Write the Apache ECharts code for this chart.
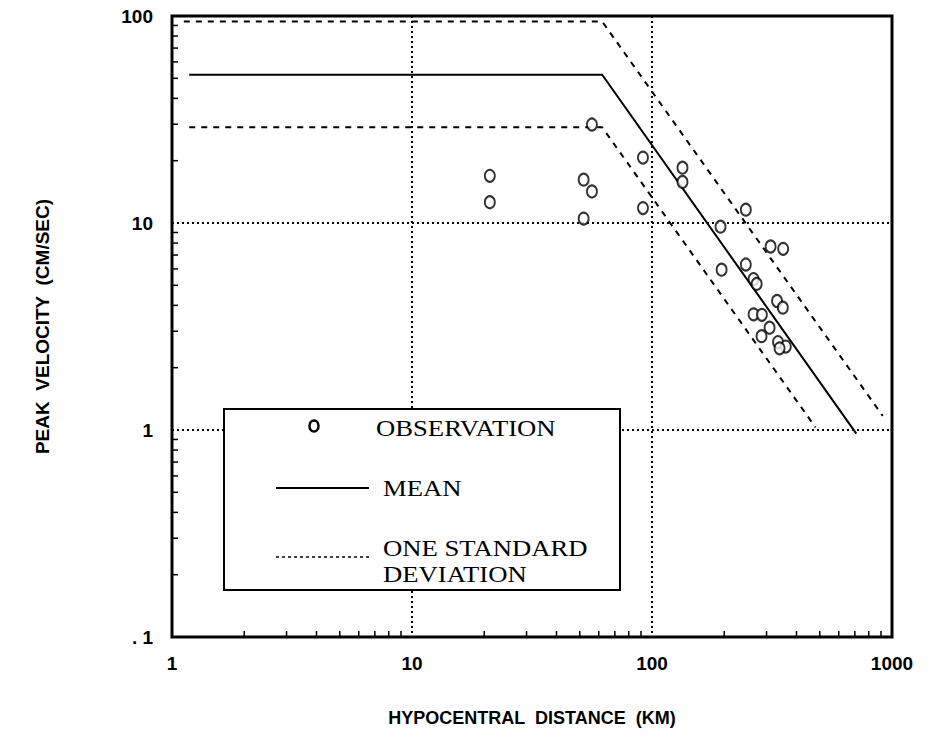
<!DOCTYPE html>
<html><head><meta charset="utf-8">
<script src="https://cdn.jsdelivr.net/npm/echarts@6/dist/echarts.min.js"></script>
<style>html,body{margin:0;padding:0;background:#fff}#c{width:929px;height:740px}</style>
</head><body><div id="c"></div>
<script>
// Observations: [hypocentral distance (km), peak velocity (cm/sec)]
const observations = [
  [21.1,16.9],[21.1,12.6],[51.9,16.2],[56.2,14.2],[51.9,10.5],[56.2,29.9],
  [91.7,20.7],[91.7,11.8],[134,18.5],[134,15.8],[193,9.6],[246,11.6],
  [312,7.7],[352,7.5],[195,5.95],[246,6.3],[265,5.36],[273,5.08],
  [332,4.2],[351,3.9],[265,3.62],[287,3.6],[309,3.12],[286,2.84],
  [335,2.66],[361,2.53],[340,2.48]
];
const meanLine = [[1.18,52],[62,52],[710,0.96]];
const upperSD  = [[1.12,94],[62,94],[915,1.17]];
const lowerSD  = [[1.18,29],[62,29],[480,1.03]];

const xTickValues = [1,10,100,1000];
const xTickLabels = ['1','10','100','1000'];
const yTickValues = [0.1,1,10,100];
const yTickLabels = ['. 1','1','10','100'];
const xMinorTicks = [2,3,4,5,6,7,8,9,20,30,40,50,60,70,80,90,200,300,400,500,600,700,800,900];
const yMinorTicks = [0.2,0.3,0.4,0.5,0.6,0.7,0.8,0.9,2,3,4,5,6,7,8,9,20,30,40,50,60,70,80,90];

const xTitle = 'HYPOCENTRAL  DISTANCE  (KM)';
const yTitle = 'PEAK  VELOCITY  (CM/SEC)';
const legendLabels = ['OBSERVATION','MEAN','ONE STANDARD','DEVIATION'];

function lookup(vals, labels, v){
  for (let i=0;i<vals.length;i++){ if (Math.abs(Math.log10(vals[i])-Math.log10(v))<1e-6) return labels[i]; }
  return '';
}
const sans = 'Liberation Sans, Arial, sans-serif';
const labelFont = {fontFamily:sans, fontWeight:'bold', fontSize:19, color:'#000'};
const serifFont = '23px Liberation Serif, Times New Roman, serif';
const LZ = 100;

const chart = echarts.init(document.getElementById('c'), null, {renderer:'svg'});
chart.setOption({
  backgroundColor:'#fff',
  animation:false,
  grid:{left:172, top:16, width:720, height:621, show:true, borderColor:'#000', borderWidth:3, backgroundColor:'transparent'},
  xAxis:{
    type:'log', logBase:10, min:1, max:1000,
    name:xTitle, nameLocation:'middle', nameGap:72,
    nameTextStyle:{fontFamily:sans, fontWeight:'bold', fontSize:18, color:'#000'},
    axisLine:{show:false}, axisTick:{show:false},
    axisLabel:Object.assign({margin:17, formatter:v=>lookup(xTickValues,xTickLabels,v)}, labelFont),
    splitLine:{show:true, lineStyle:{color:'#000', type:[2,3], width:2}},
    minorTick:{show:false}
  },
  yAxis:{
    type:'log', logBase:10, min:0.1, max:100,
    name:yTitle, nameLocation:'middle', nameGap:120, nameRotate:90,
    nameTextStyle:{fontFamily:sans, fontWeight:'bold', fontSize:19, color:'#000'},
    axisLine:{show:false}, axisTick:{show:false},
    axisLabel:Object.assign({margin:19, formatter:v=>lookup(yTickValues,yTickLabels,v)}, labelFont),
    splitLine:{show:true, lineStyle:{color:'#000', type:[2,3], width:2}}
  },
  series:[
    {type:'custom', name:'xminor', clip:false, silent:true,
     data:xMinorTicks.map(v=>[v,0.1]),
     renderItem:(params,api)=>{const p=api.coord([api.value(0),api.value(1)]);
       return {type:'line', shape:{x1:p[0],y1:p[1],x2:p[0],y2:p[1]-6}, style:{stroke:'#000',lineWidth:1.5}};}},
    {type:'custom', name:'yminor', clip:false, silent:true,
     data:yMinorTicks.map(v=>[1,v]),
     renderItem:(params,api)=>{const p=api.coord([api.value(0),api.value(1)]);
       return {type:'line', shape:{x1:p[0],y1:p[1],x2:p[0]+6,y2:p[1]}, style:{stroke:'#000',lineWidth:1.5}};}},
    {type:'line', name:'MEAN', data:meanLine, symbol:'none', lineStyle:{color:'#000', width:2}, z:3},
    {type:'line', name:'UPPER SD', data:upperSD, symbol:'none', lineStyle:{color:'#000', width:2, type:[6,6]}, z:3},
    {type:'line', name:'LOWER SD', data:lowerSD, symbol:'none', lineStyle:{color:'#000', width:2, type:[6,6]}, z:3},
    {type:'scatter', name:'OBSERVATION', data:observations, symbol:'emptyCircle', symbolSize:[10,12],
     itemStyle:{color:'#000', borderColor:'#000', borderWidth:2.5}, z:4}
  ],
  graphic:[
    {type:'rect', z:LZ, shape:{x:224,y:409,width:396,height:181}, style:{fill:'#fff', stroke:'#000', lineWidth:2}},
    {type:'ellipse', z:LZ+1, shape:{cx:314,cy:426,rx:4.5,ry:5.5}, style:{fill:'#fff', stroke:'#000', lineWidth:2.5}},
    {type:'text', z:LZ+1, x:376, y:428, scaleX:1.16, style:{text:legendLabels[0], font:serifFont, fill:'#000', verticalAlign:'middle'}},
    {type:'line', z:LZ+1, shape:{x1:276,y1:488,x2:369,y2:488}, style:{stroke:'#000', lineWidth:2}},
    {type:'text', z:LZ+1, x:383, y:488, scaleX:1.16, style:{text:legendLabels[1], font:serifFont, fill:'#000', verticalAlign:'middle'}},
    {type:'line', z:LZ+1, shape:{x1:276,y1:557,x2:369,y2:557}, style:{stroke:'#000', lineWidth:1.5, lineDash:[3,3]}},
    {type:'text', z:LZ+1, x:383, y:548, scaleX:1.16, style:{text:legendLabels[2], font:serifFont, fill:'#000', verticalAlign:'middle'}},
    {type:'text', z:LZ+1, x:383, y:574, scaleX:1.16, style:{text:legendLabels[3], font:serifFont, fill:'#000', verticalAlign:'middle'}}
  ]
});
</script></body></html>
